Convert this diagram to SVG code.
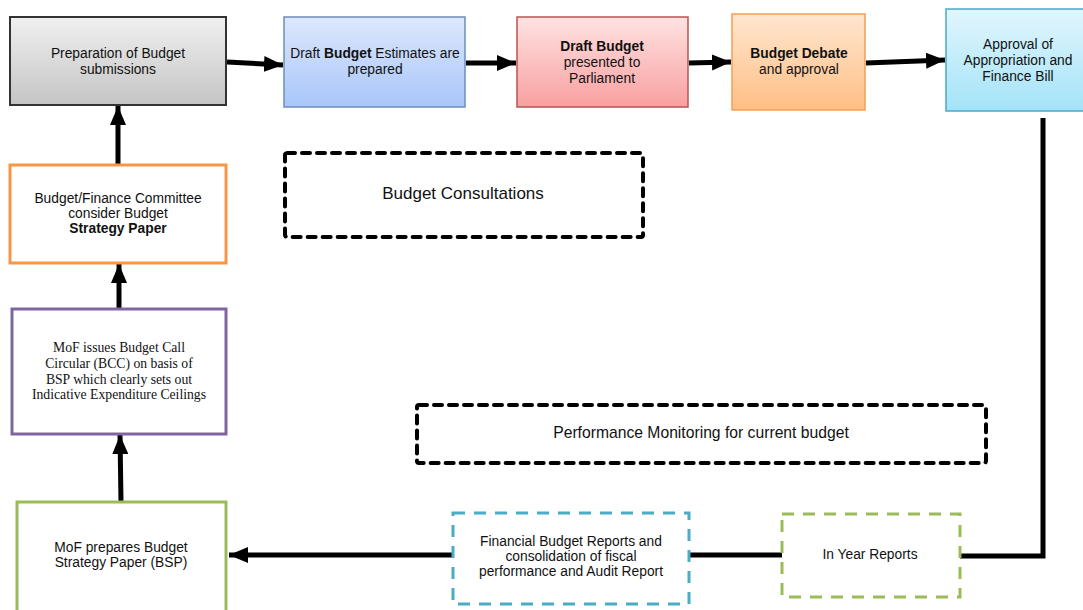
<svg xmlns="http://www.w3.org/2000/svg" width="1083" height="610" viewBox="0 0 1083 610">
<style>
text{font-family:"Liberation Sans",Arial,sans-serif;font-size:13.8px;fill:#111;text-anchor:middle}
.serif{font-family:"Liberation Serif","Times New Roman",serif;font-size:13.7px}
.b{font-weight:bold}
.conn{stroke:#000;stroke-width:5;fill:none}
.dash{fill:none;stroke:#000;stroke-width:4;stroke-dasharray:8 7;stroke-linecap:round}
</style>
<defs>
<linearGradient id="gGray" x1="0" y1="0" x2="0" y2="1"><stop offset="0" stop-color="#f0f0f0"/><stop offset="1" stop-color="#c4c4c4"/></linearGradient>
<linearGradient id="gBlue" x1="0" y1="0" x2="0" y2="1"><stop offset="0" stop-color="#dde8fc"/><stop offset="1" stop-color="#a8c6fa"/></linearGradient>
<linearGradient id="gRed" x1="0" y1="0" x2="0" y2="1"><stop offset="0" stop-color="#ffe2e2"/><stop offset="1" stop-color="#f8a0a0"/></linearGradient>
<linearGradient id="gOrange" x1="0" y1="0" x2="0" y2="1"><stop offset="0" stop-color="#ffe6cf"/><stop offset="1" stop-color="#ffbf85"/></linearGradient>
<linearGradient id="gCyan" x1="0" y1="0" x2="0" y2="1"><stop offset="0" stop-color="#e2f6fd"/><stop offset="1" stop-color="#a3e3f8"/></linearGradient>
<marker id="arr" markerUnits="userSpaceOnUse" markerWidth="20" markerHeight="20" viewBox="0 0 20 20" refX="19" refY="10" orient="auto"><path d="M0,2 L19,10 L0,18 Z" fill="#000"/></marker>
</defs>

<g id="connectors">
<line class="conn" x1="227" y1="62" x2="283" y2="65" marker-end="url(#arr)"/>
<line class="conn" x1="466" y1="63" x2="516" y2="63" marker-end="url(#arr)"/>
<line class="conn" x1="689" y1="63" x2="731" y2="62" marker-end="url(#arr)"/>
<line class="conn" x1="866" y1="63" x2="945" y2="60" marker-end="url(#arr)"/>
<polyline class="conn" points="1043,118 1043,556 960,556"/>
<line class="conn" x1="690" y1="555" x2="782" y2="555"/>
<line class="conn" x1="453" y1="555" x2="229" y2="555" marker-end="url(#arr)"/>
<line class="conn" x1="121" y1="502" x2="120" y2="435" marker-end="url(#arr)"/>
<line class="conn" x1="119" y1="309" x2="119" y2="264" marker-end="url(#arr)"/>
<line class="conn" x1="118" y1="165" x2="118" y2="106" marker-end="url(#arr)"/>
</g>

<g id="n-prep">
<rect x="10" y="17" width="216" height="88" fill="url(#gGray)" stroke="#333" stroke-width="2"/>
<text x="118" y="58">Preparation of Budget</text>
<text x="118" y="74">submissions</text>
</g>
<g id="n-draft-est">
<rect x="284" y="17" width="181" height="90" fill="url(#gBlue)" stroke="#6c8ebf" stroke-width="1.5"/>
<text x="375" y="58">Draft <tspan class="b">Budget</tspan> Estimates are</text>
<text x="375" y="74">prepared</text>
</g>
<g id="n-draft-parl">
<rect x="517" y="17" width="171" height="90" fill="url(#gRed)" stroke="#b85450" stroke-width="1.5"/>
<text x="602" y="51" class="b">Draft Budget</text>
<text x="602" y="67">presented to</text>
<text x="602" y="83">Parliament</text>
</g>
<g id="n-debate">
<rect x="732" y="14" width="133" height="96" fill="url(#gOrange)" stroke="#f59d56" stroke-width="1.5"/>
<text x="799" y="58" class="b">Budget Debate</text>
<text x="799" y="74">and approval</text>
</g>
<g id="n-approval">
<rect x="946" y="9" width="140" height="102" fill="url(#gCyan)" stroke="#47a9c9" stroke-width="1.5"/>
<text x="1018" y="49">Approval of</text>
<text x="1018" y="65">Appropriation and</text>
<text x="1018" y="81">Finance Bill</text>
</g>
<g id="n-committee">
<rect x="10" y="165" width="216" height="98" fill="#fff" stroke="#f79646" stroke-width="3"/>
<text x="118" y="203">Budget/Finance Committee</text>
<text x="118" y="218">consider Budget</text>
<text x="118" y="233" class="b">Strategy Paper</text>
</g>
<g id="n-bcc">
<rect x="12" y="309" width="214" height="125" fill="#fff" stroke="#8064a2" stroke-width="3"/>
<text class="serif" x="119" y="352">MoF issues Budget Call</text>
<text class="serif" x="119" y="368">Circular (BCC) on basis of</text>
<text class="serif" x="119" y="384">BSP which clearly sets out</text>
<text class="serif" x="119" y="399">Indicative Expenditure Ceilings</text>
</g>
<g id="n-bsp">
<rect x="17" y="502" width="209" height="112" fill="#fff" stroke="#9bbb59" stroke-width="3"/>
<text x="121" y="552">MoF prepares Budget</text>
<text x="121" y="567">Strategy Paper (BSP)</text>
</g>
<g id="n-consult">
<rect class="dash" x="285" y="153" width="358" height="84" rx="2"/>
<text x="463" y="199" style="font-size:17px">Budget Consultations</text>
</g>
<g id="n-monitor">
<rect class="dash" x="417" y="405" width="569" height="58" rx="2"/>
<text x="701" y="438" style="font-size:15.7px">Performance Monitoring for current budget</text>
</g>
<g id="n-fin-reports">
<rect x="453" y="513" width="236" height="91" fill="#fff" stroke="#4bacc6" stroke-width="3" stroke-dasharray="12 9"/>
<text x="571" y="546">Financial Budget Reports and</text>
<text x="571" y="561">consolidation of fiscal</text>
<text x="571" y="576">performance and Audit Report</text>
</g>
<g id="n-inyear">
<rect x="782" y="514" width="178" height="83" fill="#fff" stroke="#9bbb59" stroke-width="3" stroke-dasharray="12 9"/>
<text x="870" y="559">In Year Reports</text>
</g>
</svg>
